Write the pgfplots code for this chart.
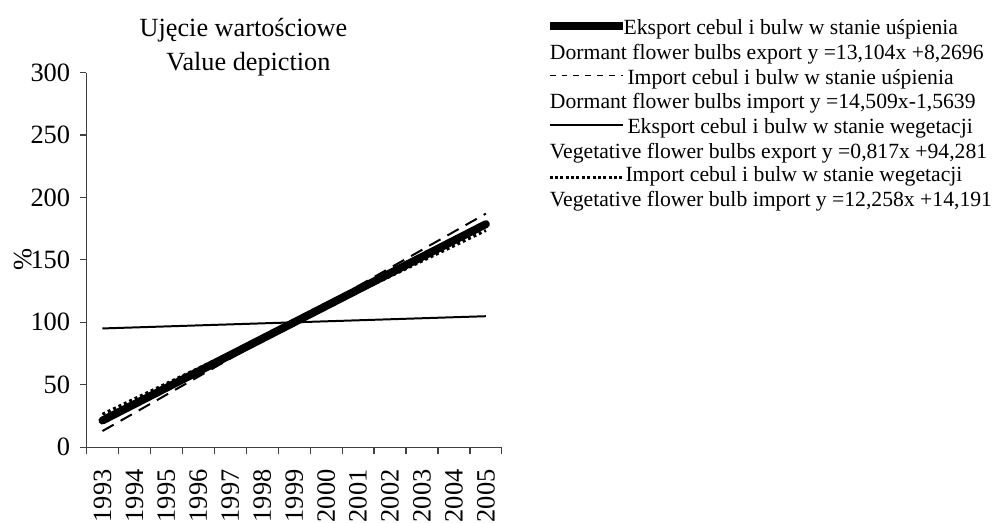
\documentclass[border=0pt]{standalone}
\usepackage{pgfplots}
\pgfplotsset{compat=1.18}
\usepackage{fontspec}
\setmainfont{Liberation Serif}
\begin{document}
\begin{tikzpicture}
\begin{axis}[
  at={(0,0)}, anchor=south west,
  scale only axis,
  width=209pt, height=188.5pt,
  xmin=0.5, xmax=13.5, ymin=0, ymax=300,
  axis x line*=bottom, axis y line*=left,
  axis line style={black!75, line width=0.6pt},
  every tick/.style={black!75, line width=0.6pt},
  tick align=outside,
  xtick={1,...,13},
  xticklabels={1993,1994,1995,1996,1997,1998,1999,2000,2001,2002,2003,2004,2005},
  major x tick style={draw=none},
  minor xtick={0.5,1.5,...,13.5},
  minor tick length=3.5pt,
  major tick length=3.5pt,
  ytick={0,50,...,300},
  /pgf/number format/assume math mode=true,
  tick label style={font=\fontsize{13.3}{15}\selectfont},
  xticklabel style={rotate=90, anchor=east, inner sep=0pt, xshift=-7.5pt},
  yticklabel style={anchor=east, inner sep=0pt, xshift=-4.5pt},
  ylabel={\%},
  ylabel style={at={(axis description cs:0,0.5)}, anchor=center, yshift=32pt, font=\fontsize{13.3}{15}\selectfont, inner sep=0pt},
  clip=false,
]
\addplot[black, line width=4pt, line cap=round] coordinates {(1,21.37) (13,178.62)};
\addplot[black, line width=1pt, dash pattern=on 6.5pt off 4pt] coordinates {(1,12.95) (13,187.05)};
\addplot[black, line width=1pt] coordinates {(1,95.10) (13,104.90)};
\addplot[black, line width=1.5pt, dash pattern=on 1.5pt off 1.5pt] coordinates {(1,26.45) (13,173.55)};
\end{axis}
\begin{scope}[x=0.5pt, y=-0.5pt, shift={(-43.5pt,225pt)}]
\path (0,0) rectangle (992,525);
\node[anchor=base, inner sep=0pt, font=\fontsize{13.2}{15}\selectfont] at (245,37) {Ujęcie wartościowe};
\node[anchor=base, inner sep=0pt, font=\fontsize{13.2}{15}\selectfont] at (250,71) {Value depiction};
\begin{scope}[every node/.style={anchor=base west, inner sep=0pt, font=\fontsize{10.9}{12}\selectfont}]
\draw[black, line width=4pt] (553,26) -- (627,26);
\node at (627,35) {Eksport cebul i bulw w stanie uśpienia};
\node at (553,60) {Dormant flower bulbs export y =13,104x +8,2696};
\draw[black, line width=0.8pt, dash pattern=on 3pt off 3pt] (553,76) -- (627,76);
\node at (631,85) {Import cebul i bulw w stanie uśpienia};
\node at (553,109) {Dormant flower bulbs import y =14,509x-1,5639};
\draw[black, line width=0.9pt] (553,126) -- (627,126);
\node at (631,134) {Eksport cebul i bulw w stanie wegetacji};
\node at (553,159) {Vegetative flower bulbs export y =0,817x +94,281};
\draw[black, line width=1.5pt, dash pattern=on 1.5pt off 1.2pt] (553,179) -- (627,179);
\node at (629,183) {Import cebul i bulw w stanie wegetacji};
\node at (553,208) {Vegetative flower bulb import y =12,258x +14,191};
\end{scope}
\end{scope}
\end{tikzpicture}
\end{document}
